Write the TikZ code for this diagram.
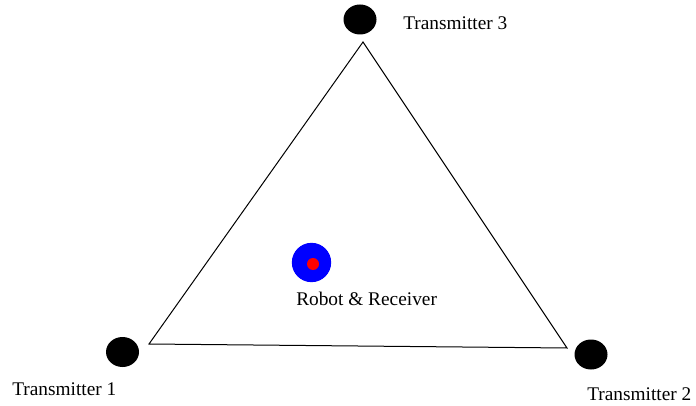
\documentclass[tikz,border=0pt]{standalone}
\usepackage{fontspec}
\setmainfont{Liberation Serif}
\usetikzlibrary{shapes.geometric}
\definecolor{rxblue}{HTML}{0000FF}
\definecolor{rxred}{HTML}{FF0000}

\begin{document}
\begin{tikzpicture}[x=0.75pt,y=-0.75pt,
    every node/.style={font=\fontsize{14.5}{17}\selectfont},
    tx/.style={ellipse,fill=black,minimum width=24.75pt,minimum height=22.5pt,inner sep=0pt},
    lbl/.style={anchor=base west,inner sep=0pt}]
  \useasboundingbox (0,0) rectangle (696,406);
  % triangle
  \coordinate (apex) at (363,42);
  \coordinate (left) at (149,344);
  \coordinate (right) at (567,348);
  \draw[line width=0.75pt] (apex) -- (left) -- (right) -- cycle;
  % transmitters
  \node[tx] (tx1) at (122.5,352) {};
  \node[tx] (tx2) at (591,354.5) {};
  \node[tx] (tx3) at (360,19.5) {};
  \node[lbl] (lab1) at (12,395) {Transmitter 1};
  \node[lbl] (lab2) at (587,400) {Transmitter 2};
  \node[lbl] (lab3) at (403,30) {Transmitter 3};
  % robot
  \node[circle,fill=rxblue,minimum size=29.5pt,inner sep=0pt] (robot) at (311.5,262.5) {};
  \node[circle,fill=rxred,minimum size=9pt,inner sep=0pt] (rx) at (313,264) {};
  \node[lbl] (labr) at (296,305) {Robot \& Receiver};
\end{tikzpicture}
\end{document}
